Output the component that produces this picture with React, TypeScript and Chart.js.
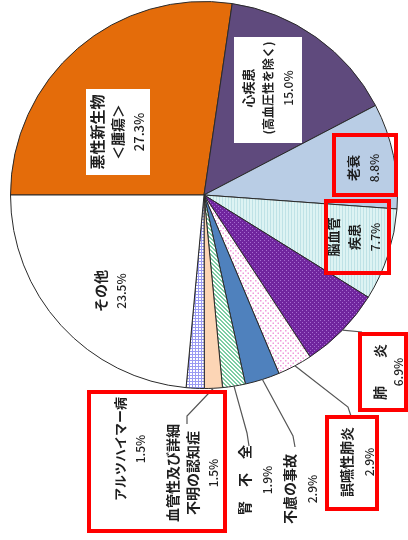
import { useEffect, useRef } from "react";
import { Chart, registerables } from "chart.js";
Chart.register(...registerables);

// ---- data ----
const categories = [
  "悪性新生物＜腫瘍＞",
  "心疾患（高血圧性を除く）",
  "老衰",
  "脳血管疾患",
  "肺炎",
  "誤嚥性肺炎",
  "不慮の事故",
  "腎不全",
  "血管性及び詳細不明の認知症",
  "アルツハイマー病",
  "その他",
];
const values = [27.3, 15.0, 8.8, 7.7, 6.9, 2.9, 2.9, 1.9, 1.5, 1.5, 23.5];
const nameLines = [
  ["悪性新生物", "＜腫瘍＞"],
  ["心疾患", "(高血圧性を除く)"],
  ["老衰"],
  ["脳血管", "疾患"],
  ["肺　　炎"],
  ["誤嚥性肺炎"],
  ["不慮の事故"],
  ["腎　不　全"],
  ["血管性及び詳細", "不明の認知症"],
  ["アルツハイマー病"],
  ["その他"],
];
const percentText = values.map((v) => v.toFixed(1) + "%");

// ---- layout (positions only) ----
type LabelPos = { cx: number; cy: number; gap: number; sizes: number[]; box?: number[] };
const labelPos: LabelPos[] = [
  { cx: 118, cy: 132, gap: 21, sizes: [15, 14, 13], box: [86, 89, 64, 86] },
  { cx: 268, cy: 88, gap: 20, sizes: [13, 12, 12], box: [234, 37, 68, 106] },
  { cx: 364, cy: 168, gap: 21, sizes: [13, 12] },
  { cx: 354, cy: 237, gap: 21, sizes: [13, 13, 12] },
  { cx: 389, cy: 372, gap: 19, sizes: [14, 12] },
  { cx: 358, cy: 462, gap: 22, sizes: [14, 12] },
  { cx: 301, cy: 489, gap: 22, sizes: [14, 12] },
  { cx: 256, cy: 480, gap: 22, sizes: [14, 12] },
  { cx: 193, cy: 473, gap: 20.5, sizes: [14, 14, 12] },
  { cx: 130, cy: 449, gap: 20, sizes: [13, 12] },
  { cx: 111, cy: 291, gap: 21, sizes: [14, 12] },
];
// leader line bends (index -> points after the slice edge)
const leaders: Record<number, number[][]> = {
  4: [[362, 332]],
  5: [[348, 407], [351, 416]],
  6: [[293, 436], [295, 447]],
  7: [[247, 433], [249, 446]],
  8: [[187, 416], [187, 424]],
};
const redBoxes = [
  [334, 135, 62, 60],
  [326, 201, 63, 72],
  [360, 334, 46, 76],
  [327, 417, 50, 92],
  [89, 392, 136, 139],
];

function makePattern(size: number, bg: string, draw: (g: CanvasRenderingContext2D) => void) {
  const c = document.createElement("canvas");
  c.width = size;
  c.height = size;
  const g = c.getContext("2d")!;
  g.fillStyle = bg;
  g.fillRect(0, 0, size, size);
  draw(g);
  return g.createPattern(c, "repeat")!;
}

export default function App() {
  const ref = useRef<HTMLCanvasElement>(null);
  useEffect(() => {
    const cyanLines = makePattern(3, "#DDF3F3", (g) => {
      g.fillStyle = "#BFE2E6";
      g.fillRect(0, 0, 1, 3);
    });
    const purpleDots = makePattern(4, "#70259E", (g) => {
      g.fillStyle = "#A56BD0";
      g.fillRect(0, 0, 1, 1);
      g.fillRect(2, 2, 1, 1);
    });
    const pinkDots = makePattern(5, "#FFFFFF", (g) => {
      g.fillStyle = "#EE9ADA";
      g.fillRect(0, 0, 1.5, 1.5);
      g.fillRect(2.5, 2.5, 1.5, 1.5);
    });
    const greenDiag = makePattern(4, "#FFFFFF", (g) => {
      g.fillStyle = "#7CCDA4";
      for (let i = 0; i < 4; i++) {
        g.fillRect(i, i, 1, 1);
        g.fillRect((i + 1) % 4, i, 1, 1);
      }
    });
    const lavGrid = makePattern(3, "#FFFFFF", (g) => {
      g.fillStyle = "#9A9AF2";
      g.fillRect(0, 0, 3, 1);
      g.fillRect(0, 0, 1, 3);
    });
    const colors: (string | CanvasPattern)[] = [
      "#E46C0A",
      "#5F4A7D",
      "#B9CDE5",
      cyanLines,
      purpleDots,
      pinkDots,
      "#4F81BD",
      greenDiag,
      "#FCD5B5",
      lavGrid,
      "#FFFFFF",
    ];
    const font = '"Noto Sans CJK JP", "Noto Sans", sans-serif';

    const overlay = {
      id: "overlay",
      afterDraw(chart: any) {
        const ctx: CanvasRenderingContext2D = chart.ctx;
        const meta = chart.getDatasetMeta(0);
        // leader lines
        ctx.save();
        ctx.strokeStyle = "#555";
        ctx.lineWidth = 1.2;
        Object.keys(leaders).forEach((k) => {
          const i = Number(k);
          const arc = meta.data[i];
          const mid = (arc.startAngle + arc.endAngle) / 2;
          const sx = arc.x + arc.outerRadius * Math.cos(mid);
          const sy = arc.y + arc.outerRadius * Math.sin(mid);
          ctx.beginPath();
          ctx.moveTo(sx, sy);
          leaders[i].forEach((p) => ctx.lineTo(p[0], p[1]));
          ctx.stroke();
        });
        ctx.restore();
        // labels
        labelPos.forEach((lp, i) => {
          if (lp.box) {
            ctx.fillStyle = "#FFFFFF";
            ctx.fillRect(lp.box[0], lp.box[1], lp.box[2], lp.box[3]);
          }
          const lines = [...nameLines[i], percentText[i]];
          const n = lines.length;
          lines.forEach((t, j) => {
            const x = lp.cx + (j - (n - 1) / 2) * lp.gap;
            const isNum = j === n - 1;
            ctx.save();
            ctx.translate(x, lp.cy);
            ctx.rotate(-Math.PI / 2);
            ctx.fillStyle = "#1E1E1E";
            ctx.font = `${isNum ? "500" : "bold"} ${lp.sizes[j] || 12}px ${font}`;
            ctx.textAlign = "center";
            ctx.textBaseline = "middle";
            ctx.fillText(t, 0, 0);
            ctx.restore();
          });
        });
        // red annotation boxes
        ctx.save();
        ctx.strokeStyle = "#FF0000";
        ctx.lineWidth = 4;
        redBoxes.forEach((b) => ctx.strokeRect(b[0], b[1], b[2], b[3]));
        ctx.restore();
      },
    };

    const chart = new Chart(ref.current!, {
      type: "pie",
      data: {
        labels: categories,
        datasets: [
          {
            data: values,
            backgroundColor: colors as any,
            borderColor: "#2A2A2A",
            borderWidth: 1,
          },
        ],
      },
      options: {
        responsive: false,
        animation: false,
        rotation: -90,
        layout: { padding: { left: 10, right: 10, top: 1, bottom: 151 } },
        plugins: {
          legend: { display: false },
          tooltip: { enabled: false },
        },
      },
      plugins: [overlay],
    });
    return () => chart.destroy();
  }, []);
  return (
    <div style={{ position: "fixed", left: 0, top: 0, width: 408, height: 540, background: "#fff" }}>
      <canvas ref={ref} width={408} height={540} style={{ display: "block" }} />
    </div>
  );
}
